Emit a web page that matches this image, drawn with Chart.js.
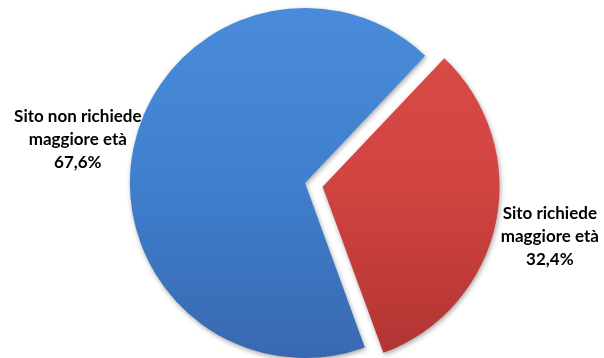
<!DOCTYPE html>
<html>
<head>
<meta charset="utf-8">
<script src="https://cdn.jsdelivr.net/npm/chart.js@4/dist/chart.umd.min.js"></script>
<style>
  html, body { margin: 0; padding: 0; background: #ffffff; }
  #wrap { width: 604px; height: 358px; }
</style>
</head>
<body>
<div id="wrap"><canvas id="myChart" width="604" height="358"></canvas></div>
<script>
var categories = ["Sito non richiede maggiore età", "Sito richiede maggiore età"];
var labelLines = [["Sito non richiede", "maggiore età"], ["Sito richiede", "maggiore età"]];
var values = [67.6, 32.4];
var valueLabels = ["67,6%", "32,4%"];

// top / middle / bottom shades of each slice
var shades = [
	['#4a8cdb', '#3f7fce', '#3869b0'],
	['#dc4d49', '#d14441', '#b03432']
];

function sliceFill(ctx) {
	var chart = ctx.chart;
	var i = ctx.dataIndex;
	if (!chart.chartArea) return shades[i][1];
	var g = chart.ctx.createLinearGradient(0, 0, 0, 358);
	g.addColorStop(0, shades[i][0]);
	g.addColorStop(0.5, shades[i][1]);
	g.addColorStop(1, shades[i][2]);
	return g;
}

// soft shadow under the slices
var sliceShadow = {
	id: 'sliceShadow',
	beforeDatasetsDraw: function(chart) {
		var ctx = chart.ctx;
		ctx.save();
		ctx.shadowColor = 'rgba(0,0,0,0.35)';
		ctx.shadowBlur = 5;
		ctx.shadowOffsetX = 1;
		ctx.shadowOffsetY = 2;
	},
	afterDatasetsDraw: function(chart) {
		chart.ctx.restore();
	}
};

// labels outside each slice, along its middle angle
var outsideLabels = {
	id: 'outsideLabels',
	afterDatasetsDraw: function(chart) {
		var ctx = chart.ctx;
		var meta = chart.getDatasetMeta(0);
		ctx.save();
		ctx.fillStyle = '#000000';
		ctx.font = 'bold 17px Lato';
		ctx.textAlign = 'center';
		ctx.textBaseline = 'middle';
		meta.data.forEach(function(arc, i) {
			var p = arc.getProps(['x', 'y', 'startAngle', 'endAngle'], true);
			var mid = (p.startAngle + p.endAngle) / 2;
			// chart.js moves an offset arc by offset/4
			var off = (arc.options.offset || 0) / 4;
			var dist = off + 232;
			var cx = p.x + Math.cos(mid) * dist;
			var cy = p.y + Math.sin(mid) * dist + 3;
			var lines = labelLines[i].concat([valueLabels[i]]);
			for (var k = 0; k < lines.length; k++) {
				ctx.fillText(lines[k], cx, cy + (k - 1) * 23);
			}
		});
		ctx.restore();
	}
};

window.onload = function() {
	var ctx = document.getElementById('myChart').getContext('2d');
	var chart = new Chart(ctx, {
		type: 'pie',
		data: {
			labels: categories,
			datasets: [{
				data: values,
				backgroundColor: sliceFill,
				borderWidth: 0,
				offset: [0, 72]
			}]
		},
		options: {
			responsive: false,
			animation: false,
			rotation: 160,
			radius: 175,
			layout: { padding: { left: 6, right: 0, top: 8, bottom: 0 } },
			plugins: {
				legend: { display: false },
				tooltip: { enabled: false }
			}
		},
		plugins: [sliceShadow, outsideLabels]
	});
};
</script>
</body>
</html>
